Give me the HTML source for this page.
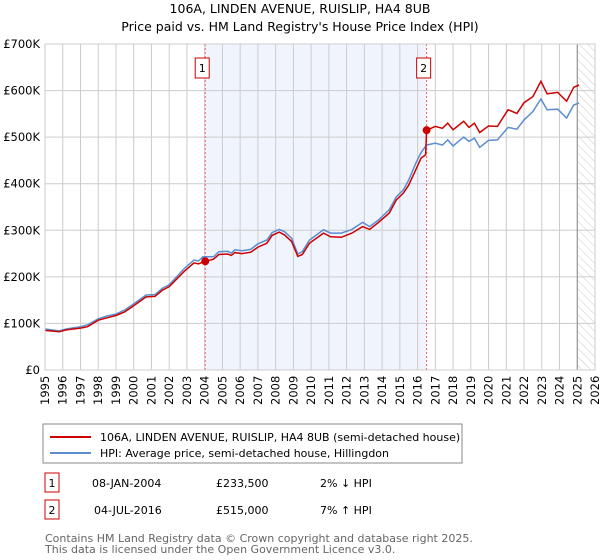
<!DOCTYPE html>
<html><head><meta charset="utf-8"><style>
body{margin:0;background:#fff;width:600px;height:560px;overflow:hidden;font-family:"DejaVu Sans","Liberation Sans",sans-serif;}
svg{position:absolute;left:0;top:0}
</style></head><body>
<svg id="c" width="600" height="560">
<defs><pattern id="hatch" width="6" height="6" patternUnits="userSpaceOnUse" patternTransform="rotate(-45)"><line x1="0" y1="0" x2="0" y2="6" stroke="#ccc" stroke-width="1"/></pattern></defs>
<text x="300" y="13" text-anchor="middle" font-size="12.5" fill="#000">106A, LINDEN AVENUE, RUISLIP, HA4 8UB</text>
<text x="300" y="31" text-anchor="middle" font-size="12.5" fill="#000">Price paid vs. HM Land Registry's House Price Index (HPI)</text>
<g id="plot"></g>
<rect x="43" y="424" width="419" height="39" fill="#fff" stroke="#888"/>
<line x1="50" y1="437" x2="91" y2="437" stroke="#cc0000" stroke-width="2"/>
<text x="100" y="441" font-size="11">106A, LINDEN AVENUE, RUISLIP, HA4 8UB (semi-detached house)</text>
<line x1="50" y1="453" x2="91" y2="453" stroke="#5b8dd0" stroke-width="2"/>
<text x="100" y="457" font-size="11">HPI: Average price, semi-detached house, Hillingdon</text>
<g font-size="11">
<rect x="45" y="473" width="14" height="19" fill="#fff" stroke="#cc0000"/>
<text x="52" y="487" text-anchor="middle">1</text>
<text x="92" y="487">08-JAN-2004</text><text x="216" y="487">£233,500</text><text x="320" y="487">2% ↓ HPI</text>
<rect x="45" y="500" width="14" height="19" fill="#fff" stroke="#cc0000"/>
<text x="52" y="514" text-anchor="middle">2</text>
<text x="94" y="514">04-JUL-2016</text><text x="216" y="514">£515,000</text><text x="320" y="514">7% ↑ HPI</text>
</g>
<text x="45" y="542" font-size="11" fill="#666">Contains HM Land Registry data © Crown copyright and database right 2025.</text>
<text x="45" y="553" font-size="11" fill="#666">This data is licensed under the Open Government Licence v3.0.</text>
</svg>
<script>
const hpiYears=[1995.0,1995.8,1996.2,1997.0,1997.4,1998.0,1998.5,1999.0,1999.5,2000.0,2000.7,2001.2,2001.6,2002.0,2002.85,2003.4,2003.65,2003.9,2004.5,2004.8,2005.3,2005.5,2005.7,2006.1,2006.6,2007.0,2007.5,2007.8,2008.2,2008.5,2008.9,2009.25,2009.5,2009.9,2010.7,2011.1,2011.7,2012.3,2012.9,2013.3,2013.8,2014.4,2014.8,2015.2,2015.5,2015.9,2016.2,2016.5,2017.0,2017.4,2017.7,2018.0,2018.6,2018.9,2019.2,2019.5,2020.0,2020.5,2021.1,2021.6,2022.0,2022.5,2022.95,2023.3,2023.9,2024.4,2024.8,2025.1];
const hpiValues=[88,84,88,93,97,110,116,120,129,142,161,162,175,183,218,236,234,243,243,254,255,251,258,256,259,271,279,295,302,297,283,249,254,279,301,294,294,302,317,308,322,344,372,387,408,444,467,483,487,483,494,481,500,491,498,478,493,494,521,517,537,555,582,559,560,541,569,573];
const priceYears=[1995.0,1995.8,1996.2,1997.0,1997.4,1998.0,1998.5,1999.0,1999.5,2000.0,2000.7,2001.2,2001.6,2002.0,2002.85,2003.4,2003.65,2004.03,2004.5,2004.8,2005.3,2005.5,2005.7,2006.1,2006.6,2007.0,2007.5,2007.8,2008.2,2008.5,2008.9,2009.25,2009.5,2009.9,2010.7,2011.1,2011.7,2012.3,2012.9,2013.3,2013.8,2014.4,2014.8,2015.2,2015.5,2015.9,2016.2,2016.45,2016.51,2017.0,2017.4,2017.7,2018.0,2018.6,2018.9,2019.2,2019.5,2020.0,2020.5,2021.1,2021.6,2022.0,2022.5,2022.95,2023.3,2023.9,2024.4,2024.8,2025.1];
const priceValues=[85,82,86,90,93,107,112,117,125,138,157,158,171,179,212,230,228,233.5,238,248,249,246,252,250,253,264,272,289,296,290,276,244,248,272,294,286,285,294,308,302,317,337,365,380,397,430,455,462,515,523,519,530,516,534,521,530,510,524,523,559,551,574,587,620,593,596,577,607,612];
const saleYears=[2004.03,2016.51];
const saleValues=[233.5,515];
const yTicks=[0,100,200,300,400,500,600,700];
const xTicks=[1995,1996,1997,1998,1999,2000,2001,2002,2003,2004,2005,2006,2007,2008,2009,2010,2011,2012,2013,2014,2015,2016,2017,2018,2019,2020,2021,2022,2023,2024,2025,2026];
const X0=45,X1=595,Y0=370,Y1=44;
const sx=y=>X0+(y-1995)/(2026-1995)*(X1-X0);
const sy=v=>Y0-v/700*(Y0-Y1);
const NS="http://www.w3.org/2000/svg";
const g=document.getElementById('plot');
function mk(t,a){const e=document.createElementNS(NS,t);for(const k in a)e.setAttribute(k,a[k]);g.appendChild(e);return e;}
let e;
e=mk('rect',{x:sx(saleYears[0]),y:Y1,width:sx(saleYears[1])-sx(saleYears[0]),height:Y0-Y1,fill:'#f0f4fd'});


e=mk('rect',{x:sx(2025),y:Y1,width:X1-sx(2025),height:Y0-Y1,fill:'url(#hatch)'});


xTicks.forEach(t=>{
 e=mk('line',{x1:sx(t),x2:sx(t),y1:Y1,y2:Y0,stroke:'#ccc'});
 
 
 e=mk('text',{x:0,y:0,transform:`translate(${sx(t)+4},${Y0+35}) rotate(-90)`,'font-size':11.5,fill:'#000'});
 e.textContent=t;
 
 
});
yTicks.forEach(t=>{
 e=mk('line',{x1:X0,x2:X1,y1:sy(t),y2:sy(t),stroke:'#ccc'});
 
 
 e=mk('text',{x:X0-5,y:sy(t)+4,'text-anchor':'end','font-size':11.5,fill:'#000'});
 e.textContent=t===0?'£0':'£'+t+'K';
 
 
});
e=mk('line',{x1:sx(2025),x2:sx(2025),y1:Y1,y2:Y0,stroke:'#888'});


saleYears.forEach((s,i)=>{
 e=mk('line',{x1:sx(s),x2:sx(s),y1:Y1,y2:Y0,stroke:'#f06060','stroke-dasharray':'2,2'});
 
 
});
const pts=(xs,vs)=>xs.map((x,i)=>sx(x).toFixed(1)+','+sy(vs[i]).toFixed(1)).join(' ');
e=mk('polyline',{points:pts(hpiYears,hpiValues),fill:'none',stroke:'#5b8dd0','stroke-width':1.5});


e=mk('polyline',{points:pts(priceYears,priceValues),fill:'none',stroke:'#cc0000','stroke-width':1.5});


saleYears.forEach((s,i)=>{
 e=mk('circle',{cx:sx(s),cy:sy(saleValues[i]),r:4,fill:'#cc0000'});
 
 
 e=mk('rect',{x:sx(s)-10,y:58,width:14,height:20,fill:'#fff',stroke:'#cc0000'});
 
 
 e=mk('text',{x:sx(s)-3,y:72,'text-anchor':'middle','font-size':11});
 e.textContent=String(i+1);
 
 
});
e=mk('rect',{x:X0,y:Y1,width:X1-X0,height:Y0-Y1,fill:'none',stroke:'#ccc'});


</script>
</body></html>
